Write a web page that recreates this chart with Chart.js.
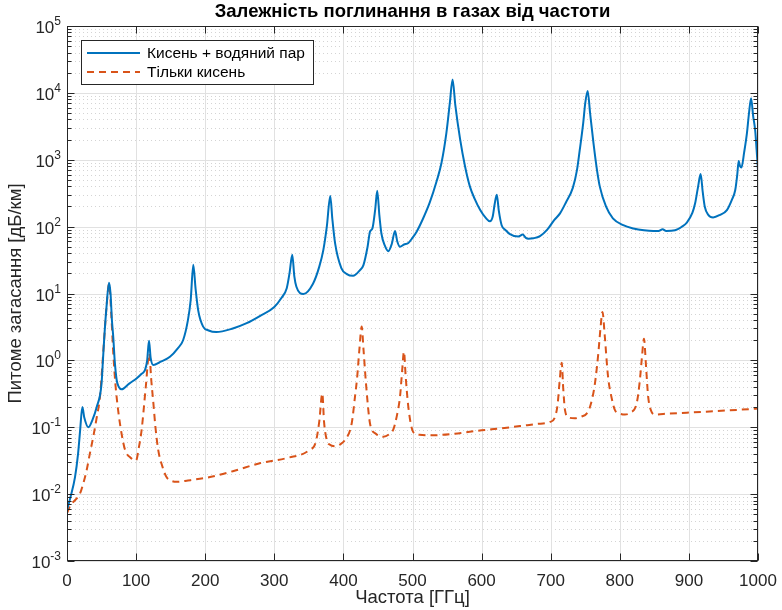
<!DOCTYPE html>
<html>
<head>
<meta charset="utf-8">
<script src="https://cdn.jsdelivr.net/npm/chart.js@4.4.0/dist/chart.umd.min.js"></script>
<style>
  html, body { margin: 0; padding: 0; background: #fff; }
  #wrap { width: 782px; height: 610px; }
</style>
</head>
<body>
<div id="wrap"><canvas id="absChart" width="782" height="610"></canvas></div>
<script>
// Кисень + водяний пар (дБ/км)
const freqBoth = [0, 5, 11.6, 16, 19, 22.2, 25, 30.9, 37, 43, 50, 52, 54, 57, 60.8, 63, 65, 67, 69, 72, 75, 79,
  90, 101, 108, 113, 116, 118.7, 121, 125, 135, 149, 160, 168, 175, 179, 182.8, 186, 190, 197, 205, 216,
  240, 260, 279, 300, 310, 318, 322, 326, 329, 332, 342, 356, 365, 371, 376, 381, 384, 388, 397, 405,
  414, 424, 429, 435, 438.5, 442, 446, 449, 452, 455, 460, 465, 470, 474.7, 478, 482, 487.7, 494, 500,
  506, 515, 525, 535, 542, 549, 554, 558, 562, 569, 576, 583, 590, 598, 606, 612, 616, 619, 622, 625,
  629, 635, 641, 653, 659.5, 664, 667.6, 675, 684.5, 695, 705, 713.5, 722, 732, 738, 742, 747, 750,
  753.5, 757, 762, 767, 771, 780, 790, 805, 819.5, 835, 848.5, 856, 862, 867, 880, 890, 897, 905, 909,
  913, 917, 920, 923, 928, 935, 945, 955, 962, 967, 970, 972, 974, 976, 980, 984, 987, 990, 993, 996,
  998, 1000];
const attenBoth = [0.0058, 0.009, 0.018, 0.04, 0.09, 0.2, 0.14, 0.10, 0.13, 0.2, 0.45, 1.0, 2.25, 6, 14.5, 10, 4, 2.2, 1.0, 0.5, 0.4, 0.37,
  0.45, 0.54, 0.63, 0.72, 1.0, 1.96, 1.1, 0.85, 0.95, 1.13, 1.5, 2.0, 4.0, 8, 27, 12, 5.5, 3.2, 2.8, 2.65,
  3.0, 3.6, 4.6, 6.3, 8.5, 12, 20, 38, 18, 12.6, 9.8, 14, 25, 45, 100, 286, 130, 56, 24, 19.5,
  18.4, 22.4, 26.6, 50, 84, 94, 180, 345, 150, 79, 52, 43, 55, 86, 60, 50, 54, 57, 68,
  84, 130, 230, 480, 900, 2500, 7000, 15800, 6500, 2000, 800, 400, 260, 177, 135, 120, 140, 220, 300, 170,
  105, 88, 77, 71, 76, 68, 66, 67, 72, 90, 125, 158, 230, 380, 700, 1390, 3500, 7000,
  10700, 5000, 1740, 700, 400, 200, 133, 105, 94, 88, 86, 86, 91, 86, 88, 100, 115, 160, 223,
  380, 610, 330, 198, 150, 137, 150, 177, 250, 350, 600, 960, 800, 765, 1300, 2500, 5000, 8300, 4500, 2700,
  1400, 700];

// Тільки кисень (дБ/км)
const freqO2 = [0, 5, 11.6, 18.8, 24, 28.5, 33, 38, 43, 47.8, 51, 54, 57, 61, 64, 67, 70, 74, 79, 84, 92, 100,
  104, 108, 114, 119, 122, 125, 128, 132, 138, 144, 150, 158.6, 175, 207, 240, 279, 320, 350, 360, 365,
  369.5, 372, 376, 380, 388, 396, 402, 412, 417, 420, 423, 426.5, 429, 432.7, 438.5, 447, 457.8, 466,
  472, 478, 482, 485, 487.7, 490, 494, 501, 510, 530, 560, 600, 626.6, 655.6, 680, 699, 706, 710, 713,
  716, 718, 720.7, 726, 735, 745, 752, 758, 764, 769, 772, 775, 778, 783, 788, 793, 800, 807.5, 815,
  824.5, 829, 832, 835, 838, 841, 846, 851, 870, 897, 930, 970, 1000];
const attenO2 = [0.0052, 0.0068, 0.0081, 0.0102, 0.015, 0.023, 0.04, 0.072, 0.14, 0.29, 0.8, 2.25, 6, 14, 5, 1.27, 0.45, 0.18, 0.08, 0.046, 0.035, 0.032,
  0.05, 0.091, 0.4, 1.27, 0.5, 0.23, 0.1, 0.046, 0.026, 0.018, 0.016, 0.0153, 0.016, 0.018, 0.022, 0.029, 0.035, 0.045, 0.06, 0.12,
  0.32, 0.12, 0.064, 0.055, 0.052, 0.056, 0.064, 0.114, 0.3, 0.57, 1.4, 3.2, 1.5, 0.45, 0.114, 0.08, 0.072, 0.078,
  0.091, 0.16, 0.29, 0.7, 1.35, 0.6, 0.2, 0.085, 0.077, 0.076, 0.08, 0.09, 0.096, 0.104, 0.112, 0.12, 0.14, 0.22, 0.5,
  0.92, 0.4, 0.18, 0.14, 0.136, 0.145, 0.16, 0.22, 0.45, 1.3, 3, 5.3, 2.5, 0.57, 0.28, 0.18, 0.16, 0.155, 0.165,
  0.23, 0.5, 1.1, 2.1, 0.8, 0.29, 0.17, 0.155, 0.16, 0.165, 0.172, 0.182, 0.19];

const xTicks = [0, 100, 200, 300, 400, 500, 600, 700, 800, 900, 1000];
const yExponents = [-3, -2, -1, 0, 1, 2, 3, 4, 5];

const toPoints = (xs, ys) => xs.map((x, i) => ({ x: x, y: ys[i] }));

const FONT = 'Liberation Sans, Arial, sans-serif';
const AXIS = '#262626';

// сітка в стилі MATLAB: суцільні основні лінії, пунктирні допоміжні
const gridPlugin = {
  id: 'matlabGrid',
  beforeDatasetsDraw(chart) {
    const { ctx, chartArea: a, scales: { x, y } } = chart;
    ctx.save();
    ctx.lineWidth = 1;
    // допоміжні (пунктир)
    ctx.strokeStyle = '#d4d4d4';
    ctx.setLineDash([1, 3]);
    yExponents.slice(0, -1).forEach(e => {
      for (let k = 2; k <= 9; k++) {
        const py = Math.round(y.getPixelForValue(k * Math.pow(10, e))) + 0.5;
        ctx.beginPath(); ctx.moveTo(a.left, py); ctx.lineTo(a.right, py); ctx.stroke();
      }
    });
    // основні
    ctx.setLineDash([]);
    ctx.strokeStyle = '#e1e1e1';
    xTicks.forEach(v => {
      const px = Math.round(x.getPixelForValue(v)) + 0.5;
      ctx.beginPath(); ctx.moveTo(px, a.top); ctx.lineTo(px, a.bottom); ctx.stroke();
    });
    yExponents.forEach(e => {
      const py = Math.round(y.getPixelForValue(Math.pow(10, e))) + 0.5;
      ctx.beginPath(); ctx.moveTo(a.left, py); ctx.lineTo(a.right, py); ctx.stroke();
    });
    ctx.restore();
  },
  afterDatasetsDraw(chart) {
    const { ctx, chartArea: a, scales: { x, y } } = chart;
    ctx.save();
    ctx.strokeStyle = AXIS;
    ctx.lineWidth = 1;
    const L = Math.round(a.left) + 0.5, R = Math.round(a.right) - 0.5;
    const T = Math.round(a.top) + 0.5, B = Math.round(a.bottom) - 0.5;
    ctx.strokeRect(L, T, R - L, B - T);
    ctx.beginPath();
    xTicks.forEach(v => {
      const px = Math.round(x.getPixelForValue(v)) + 0.5;
      ctx.moveTo(px, B); ctx.lineTo(px, B - 7);
      ctx.moveTo(px, T); ctx.lineTo(px, T + 7);
    });
    yExponents.forEach((e, i) => {
      const py = Math.round(y.getPixelForValue(Math.pow(10, e))) + 0.5;
      ctx.moveTo(L, py); ctx.lineTo(L + 7, py);
      ctx.moveTo(R, py); ctx.lineTo(R - 7, py);
      if (i < yExponents.length - 1) {
        for (let k = 2; k <= 9; k++) {
          const pm = Math.round(y.getPixelForValue(k * Math.pow(10, e))) + 0.5;
          ctx.moveTo(L, pm); ctx.lineTo(L + 4, pm);
          ctx.moveTo(R, pm); ctx.lineTo(R - 4, pm);
        }
      }
    });
    ctx.stroke();

    // підписи 10^n
    ctx.fillStyle = AXIS;
    ctx.textBaseline = 'alphabetic';
    yExponents.forEach(e => {
      const py = y.getPixelForValue(Math.pow(10, e));
      const exp = e < 0 ? '-' + Math.abs(e) : String(e);
      ctx.font = '12px ' + FONT;
      const ew = ctx.measureText(exp).width;
      ctx.font = '17px ' + FONT;
      const bw = ctx.measureText('10').width;
      const right = a.left - 6;
      ctx.textAlign = 'left';
      ctx.fillText('10', right - ew - bw, py + 7);
      ctx.font = '12px ' + FONT;
      ctx.fillText(exp, right - ew, py - 1);
    });

    // легенда
    const lx = 81, ly = 40, lw = 232, lh = 44;
    ctx.fillStyle = '#ffffff';
    ctx.fillRect(lx, ly, lw, lh);
    ctx.strokeStyle = AXIS;
    ctx.strokeRect(lx + 0.5, ly + 0.5, lw, lh);
    chart.data.datasets.forEach((ds, i) => {
      const yy = ly + 13 + i * 19;
      ctx.strokeStyle = ds.borderColor;
      ctx.lineWidth = 2;
      ctx.setLineDash(ds.borderDash || []);
      ctx.beginPath(); ctx.moveTo(87, yy); ctx.lineTo(140, yy); ctx.stroke();
      ctx.setLineDash([]);
      ctx.fillStyle = '#000000';
      ctx.font = '15.5px ' + FONT;
      ctx.textAlign = 'left';
      ctx.textBaseline = 'middle';
      ctx.fillText(ds.label, 147, yy + 1);
    });

    // заголовок
    ctx.fillStyle = '#000000';
    ctx.font = 'bold 18.5px ' + FONT;
    ctx.textAlign = 'center';
    ctx.textBaseline = 'middle';
    ctx.fillText('Залежність поглинання в газах від частоти', (a.left + a.right) / 2, 12);
    ctx.restore();
  }
};

new Chart(document.getElementById('absChart'), {
  type: 'line',
  data: {
    datasets: [
      {
        label: 'Кисень + водяний пар',
        data: toPoints(freqBoth, attenBoth),
        borderColor: '#0072BD',
        borderWidth: 2,
        pointRadius: 0,
        cubicInterpolationMode: 'monotone',
        fill: false
      },
      {
        label: 'Тільки кисень',
        data: toPoints(freqO2, attenO2),
        borderColor: '#D95319',
        borderWidth: 2,
        borderDash: [7, 5],
        pointRadius: 0,
        cubicInterpolationMode: 'monotone',
        fill: false
      }
    ]
  },
  options: {
    responsive: false,
    animation: false,
    layout: { padding: { left: 0, right: 24, top: 26, bottom: 0 } },
    plugins: {
      legend: { display: false },
      title: { display: false },
      tooltip: { enabled: false }
    },
    scales: {
      x: {
        type: 'linear',
        min: 0,
        max: 1000,
        grid: { display: false, drawTicks: false },
        border: { display: false },
        afterBuildTicks: s => { s.ticks = xTicks.map(v => ({ value: v })); },
        afterFit: s => { s.height = 49; s.paddingRight = 0; s.paddingLeft = 0; },
        ticks: {
          autoSkip: false,
          maxRotation: 0,
          padding: 10,
          color: AXIS,
          font: { family: FONT, size: 17 },
          callback: value => String(value)
        },
        title: {
          display: true,
          text: 'Частота [ГГц]',
          color: AXIS,
          padding: { top: 0, bottom: 1 },
          font: { family: FONT, size: 18.5 }
        }
      },
      y: {
        type: 'logarithmic',
        min: 1e-3,
        max: 1e5,
        grid: { display: false, drawTicks: false },
        border: { display: false },
        afterBuildTicks: s => { s.ticks = yExponents.map(e => ({ value: Math.pow(10, e) })); },
        afterFit: s => { s.width = 67; s.paddingTop = 0; s.paddingBottom = 0; },
        ticks: { display: false },
        title: {
          display: true,
          text: 'Питоме загасання [дБ/км]',
          color: AXIS,
          padding: { top: 5, bottom: 0 },
          font: { family: FONT, size: 18.5 }
        }
      }
    }
  },
  plugins: [gridPlugin]
});
</script>
</body>
</html>
